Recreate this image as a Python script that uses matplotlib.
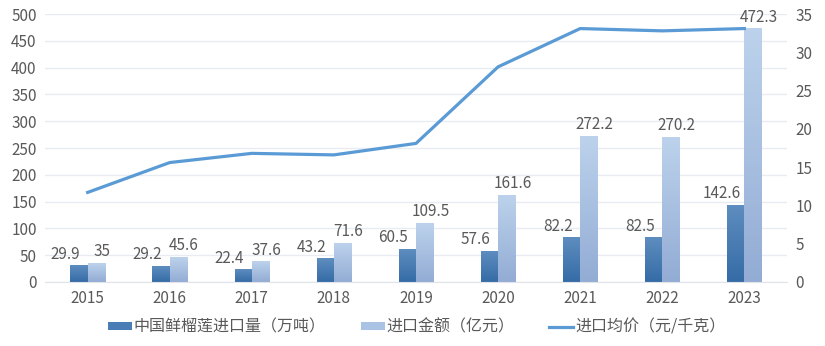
import matplotlib
matplotlib.use("Agg")
import matplotlib.pyplot as plt
import numpy as np
from matplotlib.patches import Patch
from matplotlib.lines import Line2D

plt.rcParams['font.family'] = ['Noto Sans CJK SC', 'DejaVu Sans']

years = ['2015', '2016', '2017', '2018', '2019', '2020', '2021', '2022', '2023']
volume = [29.9, 29.2, 22.4, 43.2, 60.5, 57.6, 82.2, 82.5, 142.6]        # 万吨
amount = [35, 45.6, 37.6, 71.6, 109.5, 161.6, 272.2, 270.2, 472.3]      # 亿元
price = [11.7, 15.6, 16.8, 16.6, 18.1, 28.1, 33.1, 32.8, 33.1]          # 元/千克

grey = '#595959'
fig = plt.figure(figsize=(8.25, 3.46), dpi=100)
ax = fig.add_axes([0.0545, 0.185, 0.8995, 0.7745])
ax2 = ax.twinx()

x = np.arange(len(years))
w = 0.21

def grad_bar(axis, xc, h, top, bottom):
    # vertical gradient fill for one bar
    cmap = matplotlib.colors.LinearSegmentedColormap.from_list('g', [bottom, top])
    g = np.linspace(0, 1, 64).reshape(-1, 1)
    axis.imshow(g, cmap=cmap, origin='lower', aspect='auto',
                extent=(xc - w / 2, xc + w / 2, 0, h), zorder=2)

for i in range(len(years)):
    grad_bar(ax, x[i] - w / 2, volume[i], '#5e8dbf', '#356ca6')
    grad_bar(ax, x[i] + w / 2, amount[i], '#bcd2ec', '#93acd4')
    ax.text(x[i] - w / 2 - 0.17, volume[i] + 6, f'{volume[i]:g}', ha='center', va='bottom',
            fontsize=11, color=grey)
    ax.text(x[i] + w / 2 + 0.07, amount[i] + 6, f'{amount[i]:g}', ha='center', va='bottom',
            fontsize=11, color=grey)

ax.set_xlim(-0.52, len(years) - 0.48)
ax.set_ylim(0, 500)
ax.set_yticks(range(0, 501, 50))
ax.set_xticks(x)
ax.set_xticklabels(years)
ax.grid(axis='y', color='#e8ecf2', linewidth=1)
ax.set_axisbelow(True)

ax2.plot(x, price, color='#5b9bd5', linewidth=2.3, zorder=3)
ax2.set_ylim(0, 35)
ax2.set_yticks(range(0, 36, 5))

for a in (ax, ax2):
    for s in a.spines.values():
        s.set_visible(False)
    a.tick_params(length=0, labelsize=11, labelcolor=grey, pad=6)
ax.spines['bottom'].set_visible(True)
ax.spines['bottom'].set_color('#e0e4ea')

handles = [Patch(facecolor='#4a7db5', label='中国鲜榴莲进口量（万吨）'),
           Patch(facecolor='#aac2e4', label='进口金额（亿元）'),
           Line2D([], [], color='#5b9bd5', linewidth=2.3, label='进口均价（元/千克）')]
fig.legend(handles=handles, loc='center', bbox_to_anchor=(0.505, 0.055), ncol=3, frameon=False,
           fontsize=11.5, labelcolor=grey, handlelength=1.5, handleheight=0.35, handletextpad=0.1,
           columnspacing=2.2)

fig.savefig('out.png', dpi=100)
